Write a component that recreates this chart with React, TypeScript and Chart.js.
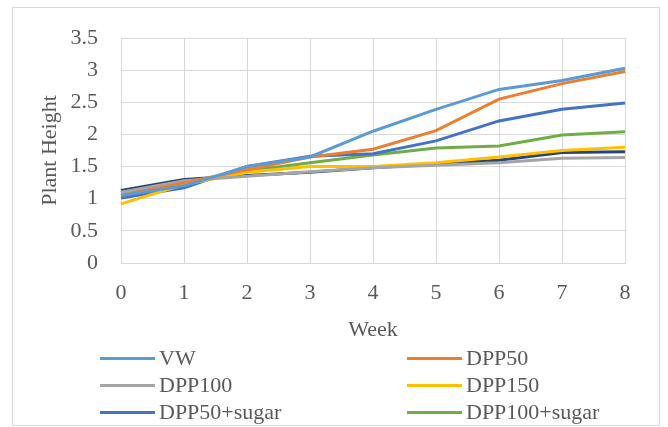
import React, { useEffect, useRef } from "react";
import { Chart, registerables } from "chart.js";

Chart.register(...registerables);

const weeks = ["0", "1", "2", "3", "4", "5", "6", "7", "8"];
const vw = [1.05, 1.2, 1.5, 1.65, 2.05, 2.39, 2.7, 2.84, 3.03];
const dpp50 = [1.05, 1.25, 1.45, 1.65, 1.77, 2.06, 2.55, 2.79, 2.98];
const dpp100 = [1.1, 1.28, 1.35, 1.42, 1.48, 1.52, 1.56, 1.63, 1.64];
const dpp150 = [0.92, 1.22, 1.41, 1.5, 1.5, 1.56, 1.65, 1.75, 1.8];
const dpp50Sugar = [1.01, 1.17, 1.5, 1.66, 1.7, 1.9, 2.21, 2.39, 2.49];
const dpp100Sugar = [1.1, 1.24, 1.43, 1.56, 1.68, 1.79, 1.82, 1.99, 2.04];
const dpp150Sugar = [1.13, 1.3, 1.36, 1.41, 1.48, 1.54, 1.6, 1.72, 1.73];
const yTicks = [0, 0.5, 1, 1.5, 2, 2.5, 3, 3.5];

const seriesNames = ["VW", "DPP50", "DPP100", "DPP150", "DPP50+sugar", "DPP100+sugar", "DPP150+sugar"];
const seriesColors = ["#5B9BD5", "#ED7D31", "#A5A5A5", "#FFC000", "#4472C4", "#70AD47", "#264478"];
const seriesData = [vw, dpp50, dpp100, dpp150, dpp50Sugar, dpp100Sugar, dpp150Sugar];
const legendCount = 6;

const FONT = "'Liberation Serif', 'Times New Roman', serif";
const TEXT = "#595959";
const GRID = "#D9D9D9";
const FS = 22;

export default function App() {
  const ref = useRef<HTMLCanvasElement | null>(null);
  useEffect(() => {
    if (!ref.current) return;
    const chart = new Chart(ref.current, {
      type: "line",
      data: {
        labels: weeks,
        datasets: seriesData.map((d, i) => ({
          label: seriesNames[i],
          data: d,
          borderColor: seriesColors[i],
          backgroundColor: seriesColors[i],
          borderWidth: 3,
          pointRadius: 0,
          tension: 0,
          fill: false,
        })),
      },
      options: {
        animation: false,
        responsive: false,
        maintainAspectRatio: false,
        layout: { padding: { left: 0, top: 38, right: 43, bottom: 0 } },
        plugins: { legend: { display: false }, tooltip: { enabled: false } },
        scales: {
          x: {
            type: "category",
            offset: false,
            grid: { color: GRID, lineWidth: 1, drawTicks: false },
            border: { color: GRID },
            ticks: { color: TEXT, font: { family: FONT, size: FS }, padding: 17, maxRotation: 0 },
            title: {
              display: true,
              text: "Week",
              color: TEXT,
              font: { family: FONT, size: FS },
              padding: { top: 0, bottom: 84 },
            },
            afterFit: (s: any) => {
              s.height = 164;
            },
          },
          y: {
            min: 0,
            max: 3.5,
            afterBuildTicks: (s: any) => {
              s.ticks = yTicks.map((v) => ({ value: v }));
            },
            grid: { color: GRID, lineWidth: 1, drawTicks: false },
            border: { color: GRID },
            ticks: {
              color: TEXT,
              font: { family: FONT, size: FS },
              padding: 23,
              callback: (v: any) => String(Number(v)),
            },
            title: {
              display: true,
              text: "Plant Height",
              color: TEXT,
              font: { family: FONT, size: FS },
              padding: { top: 37, bottom: 0 },
            },
            afterFit: (s: any) => {
              s.width = 121;
            },
          },
        },
      },
    });
    return () => chart.destroy();
  }, []);

  return (
    <div style={{ position: "absolute", left: 0, top: 0, width: 668, height: 427, background: "#fff" }}>
      <div
        style={{
          position: "absolute",
          left: 12,
          top: 7,
          width: 648,
          height: 419,
          border: `1px solid ${GRID}`,
          boxSizing: "border-box",
        }}
      />
      <canvas ref={ref} width={668} height={427} style={{ position: "absolute", left: 0, top: 0 }} />
      {seriesNames.slice(0, legendCount).map((name, i) => {
        const col = i % 2;
        const row = Math.floor(i / 2);
        const lineLeft = col === 0 ? 100 : 407;
        const cy = [358, 385, 412][row];
        return (
          <div
            key={name}
            style={{
              position: "absolute",
              left: lineLeft,
              top: cy - 13,
              height: 26,
              display: "flex",
              alignItems: "center",
              fontFamily: FONT,
              fontSize: FS,
              color: TEXT,
              whiteSpace: "nowrap",
            }}
          >
            <span style={{ display: "inline-block", width: 55, height: 3, background: seriesColors[i], marginRight: 4 }} />
            <span>{name}</span>
          </div>
        );
      })}
    </div>
  );
}
